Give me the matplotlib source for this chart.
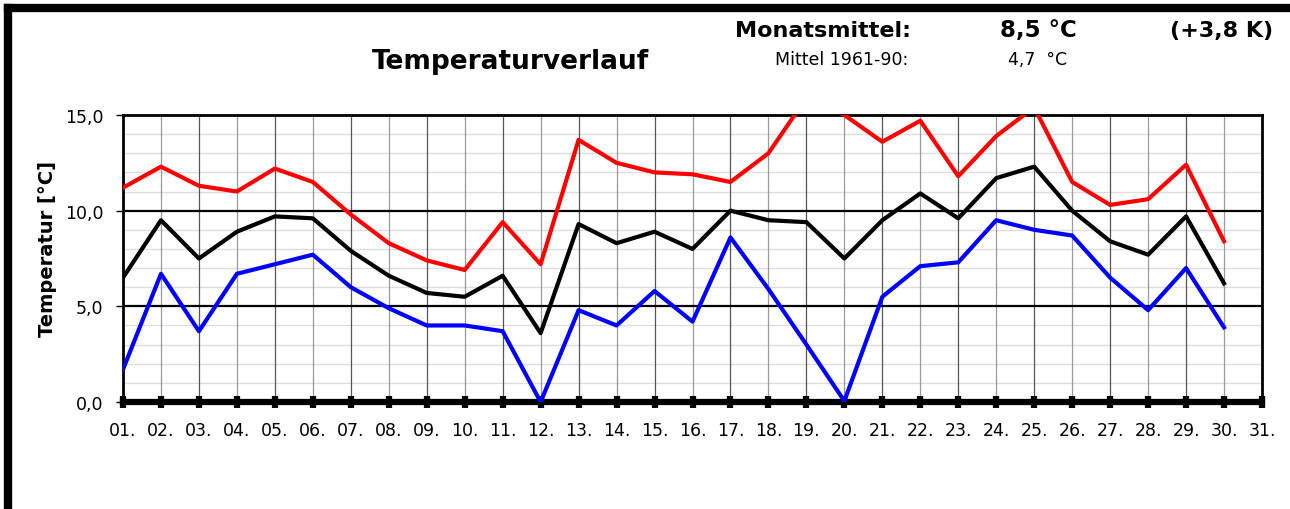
import matplotlib
matplotlib.use("Agg")
import matplotlib.pyplot as plt
from matplotlib.ticker import MultipleLocator, FuncFormatter
from matplotlib.lines import Line2D

# data
days = list(range(1, 32))
day_labels = ["%02d." % d for d in days]
t_max = [11.2, 12.3, 11.3, 11.0, 12.2, 11.5, 9.8, 8.3, 7.4, 6.9,
         9.4, 7.2, 13.7, 12.5, 12.0, 11.9, 11.5, 13.0, 15.9, 15.0,
         13.6, 14.7, 11.8, 13.9, 15.4, 11.5, 10.3, 10.6, 12.4, 8.4]
t_mean = [6.5, 9.5, 7.5, 8.9, 9.7, 9.6, 7.9, 6.6, 5.7, 5.5,
          6.6, 3.6, 9.3, 8.3, 8.9, 8.0, 10.0, 9.5, 9.4, 7.5,
          9.5, 10.9, 9.6, 11.7, 12.3, 10.0, 8.4, 7.7, 9.7, 6.2]
t_min = [1.7, 6.7, 3.7, 6.7, 7.2, 7.7, 6.0, 4.9, 4.0, 4.0,
         3.7, 0.0, 4.8, 4.0, 5.8, 4.2, 8.6, 5.9, 3.0, 0.05,
         5.5, 7.1, 7.3, 9.5, 9.0, 8.7, 6.5, 4.8, 7.0, 3.9]

plt.rcParams["font.family"] = ["DejaVu Sans"]

W, H = 1290, 510
fig = plt.figure(figsize=(W / 100, H / 100), dpi=100)
ax = fig.add_axes([123 / W, 107 / H, 1139 / W, 287 / H])

ax.set_xlim(1, 31)
ax.set_ylim(0, 15)

# grid: light minor lines every 1 K, black lines every 5 K, vertical per day
for v in range(1, 15):
    if v % 5 == 0:
        ax.axhline(v, color="black", lw=1.6, zorder=1)
    else:
        ax.axhline(v, color="#dddddd", lw=1.0, zorder=0)
for i, d in enumerate(days[1:-1]):
    ax.axvline(d, color="#999999" if i % 2 == 0 else "#555555", lw=0.9, zorder=0)

n = len(t_max)
ax.plot(days[:n], t_max, color="#ff0000", lw=3.0, zorder=3)
ax.plot(days[:n], t_mean, color="black", lw=3.0, zorder=3)
ax.plot(days[:n], t_min, color="#0000ff", lw=3.0, zorder=3)

ax.set_xticks(days)
ax.set_xticklabels(day_labels)
ax.yaxis.set_major_locator(MultipleLocator(5))
ax.yaxis.set_major_formatter(FuncFormatter(lambda v, p: ("%.1f" % v).replace(".", ",")))

for s in ["top", "left", "right"]:
    ax.spines[s].set_linewidth(2.0)
ax.spines["bottom"].set_linewidth(4.5)
ax.tick_params(axis="x", direction="inout", length=8, width=4.5, labelsize=12.5, pad=10)
ax.tick_params(axis="y", direction="out", length=5, width=1, labelsize=12.5, pad=9)

# y axis title
fig.text(48 / W, 1 - 249 / H, "Temperatur [°C]", fontsize=14, fontweight="bold",
         rotation=90, ha="center", va="center")

# header texts
fig.text(510 / W, 1 - 69 / H, "Temperaturverlauf", fontsize=19, fontweight="bold",
         ha="center", va="baseline")
fig.text(735 / W, 1 - 37 / H, "Monatsmittel:", fontsize=16, fontweight="bold",
         ha="left", va="baseline")
fig.text(1000 / W, 1 - 37 / H, "8,5 °C", fontsize=16.5, fontweight="bold",
         ha="left", va="baseline")
fig.text(1273 / W, 1 - 37 / H, "(+3,8 K)", fontsize=16, fontweight="bold",
         ha="right", va="baseline")
fig.text(908 / W, 1 - 65 / H, "Mittel 1961-90:", fontsize=12.5,
         ha="right", va="baseline")
fig.text(1008 / W, 1 - 65 / H, "4,7  °C", fontsize=12.5,
         ha="left", va="baseline")

# thick frame at left and top of the picture
fig.add_artist(Line2D([8 / W, 8 / W], [0, 1 - 9 / H], color="black", lw=6,
                      transform=fig.transFigure, solid_capstyle="projecting"))
fig.add_artist(Line2D([8 / W, 1], [1 - 9 / H, 1 - 9 / H], color="black", lw=6,
                      transform=fig.transFigure, solid_capstyle="projecting"))

fig.savefig("out.png", dpi=100)
